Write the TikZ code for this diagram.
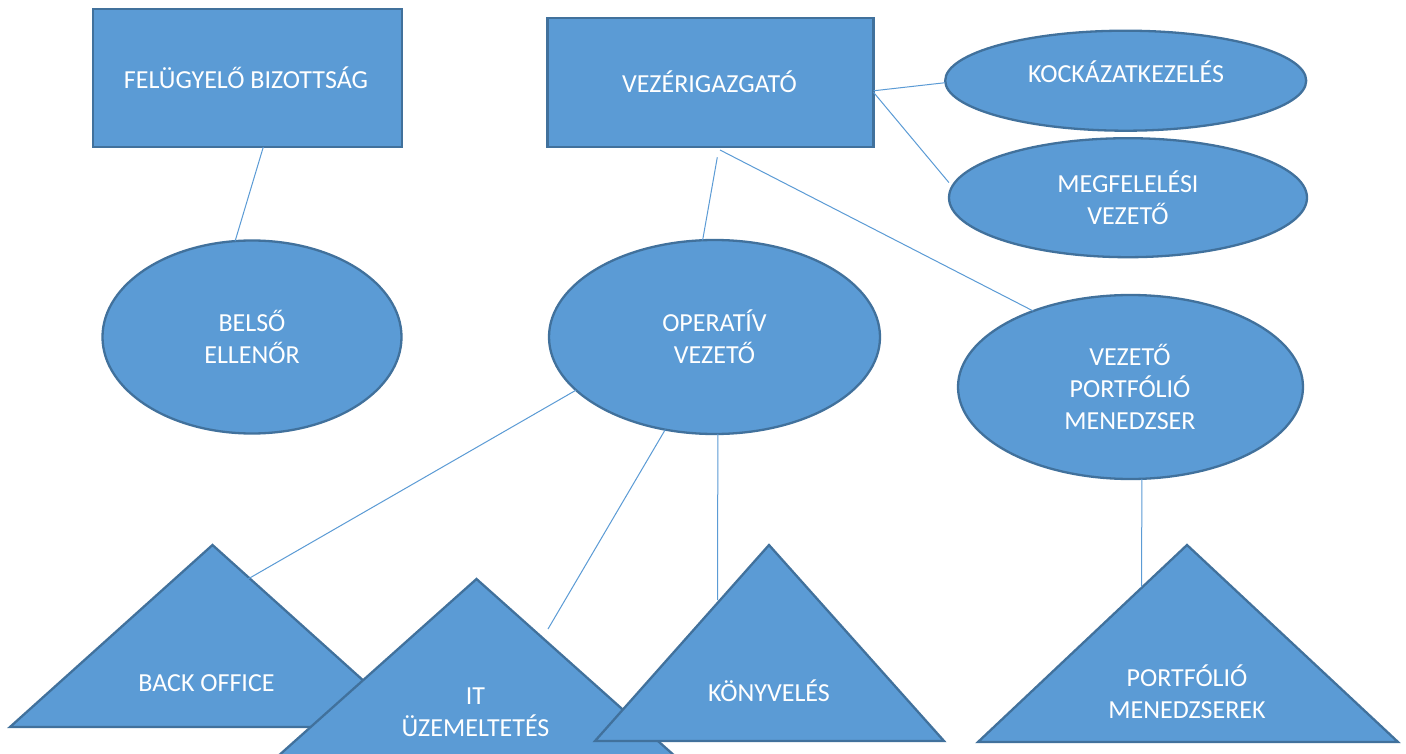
\documentclass[tikz,border=0pt]{standalone}
\usepackage{fontspec}
\setmainfont{Carlito}
\usetikzlibrary{shapes.geometric,calc}
\definecolor{shapefill}{HTML}{5B9BD5}
\definecolor{shapeline}{HTML}{41719C}
\definecolor{connline}{HTML}{5B9BD5}
\tikzset{
  boxshape/.style={draw=shapeline,fill=shapefill,line width=2.3pt,inner sep=0pt,outer sep=0pt,rectangle},
  ellshape/.style={draw=shapeline,fill=shapefill,line width=2.3pt,inner sep=0pt,outer sep=0pt,ellipse},
  trishape/.style={draw=shapeline,fill=shapefill,line width=2.3pt,line join=miter},
  lbl/.style={text=white,font=\fontsize{26}{32}\selectfont,align=center,anchor=base,inner sep=0pt},
  conn/.style={draw=connline,line width=1pt}
}
\begin{document}
\begin{tikzpicture}[x=1pt,y=-1pt]
\fill[white] (0,0) rectangle (1406,754);
\useasboundingbox (0,0) rectangle (1406,754);

% rectangles
\node[boxshape,minimum width=309pt,minimum height=138pt] (fb) at (247.5,78) {};
\node[boxshape,minimum width=326pt,minimum height=129pt] (vz) at (710.5,82.8) {};

% ellipses
\node[ellshape,minimum width=361pt,minimum height=100pt] (kk) at (1125.7,80.7) {};
\node[ellshape,minimum width=358pt,minimum height=119pt] (mv) at (1128,197.7) {};
\node[ellshape,minimum width=299pt,minimum height=193pt] (be) at (252,337) {};
\node[ellshape,minimum width=331pt,minimum height=194pt] (op) at (714.5,337) {};
\node[ellshape,minimum width=345pt,minimum height=184pt] (vp) at (1130.5,387) {};

% triangles
\coordinate (boA) at (212.5,545);
\coordinate (boL) at (10,727);
\coordinate (boR) at (415,727);
\coordinate (itA) at (476.5,579);
\coordinate (itL) at (262.5,770);
\coordinate (itR) at (690.5,770);
\coordinate (kvA) at (769,545);
\coordinate (kvL) at (595,741);
\coordinate (kvR) at (944,741);
\coordinate (pmA) at (1187,545);
\coordinate (pmL) at (978,742);
\coordinate (pmR) at (1398,742);

\filldraw[trishape] (boA) -- (boL) -- (boR) -- cycle;
\node[lbl] (boT) at (206.5,691) {BACK OFFICE};
\filldraw[trishape] (itA) -- (itL) -- (itR) -- cycle;
\node[lbl] (itT) at (475.5,736) {IT\\ÜZEMELTETÉS};
\filldraw[trishape] (kvA) -- (kvL) -- (kvR) -- cycle;
\node[lbl] (kvT) at (769,701.5) {KÖNYVELÉS};
\filldraw[trishape] (pmA) -- (pmL) -- (pmR) -- cycle;
\node[lbl] (pmT) at (1187,718) {PORTFÓLIÓ\\MENEDZSEREK};

% labels (base anchor = baseline of the last line)
\node[lbl] (fbT) at (246,88.3) {FELÜGYELŐ BIZOTTSÁG};
\node[lbl] (vzT) at (709.5,92.7) {VEZÉRIGAZGATÓ};
\node[lbl] (kkT) at (1126,82.7) {KOCKÁZATKEZELÉS};
\node[lbl] (mvT) at (1128,225) {MEGFELELÉSI\\VEZETŐ};
\node[lbl] (beT) at (252,363) {BELSŐ\\ELLENŐR};
\node[lbl] (opT) at (714.5,363.5) {OPERATÍV\\VEZETŐ};
\node[lbl] (vpT) at (1130,429) {VEZETŐ\\PORTFÓLIÓ\\MENEDZSER};

% connector end points on triangles
\coordinate (boE) at (248,579);
\coordinate (itE) at (548,629);
\coordinate (kvE) at (717.5,600);
\coordinate (pmE) at (1141.7,587);

% connectors
\draw[conn] ([xshift=15.8pt]fb.south) -- (be.100);
\draw[conn] ([xshift=6.8pt,yshift=-10pt]vz.south) -- (op.97);
\draw[conn] ([xshift=9.5pt,yshift=-2.7pt]vz.south) -- (vp.142);
\draw[conn] ([yshift=-8pt]vz.east) -- ([yshift=-2pt]kk.west);
\draw[conn] ([yshift=-9.5pt]vz.east) -- ([xshift=-6pt]mv.175);
\draw[conn] (op.201) -- (boE);
\draw[conn] (op.242) -- (itE);
\draw[conn] (op.272) -- (kvE);
\draw[conn] (vp.277) -- (pmE);
\end{tikzpicture}
\end{document}
